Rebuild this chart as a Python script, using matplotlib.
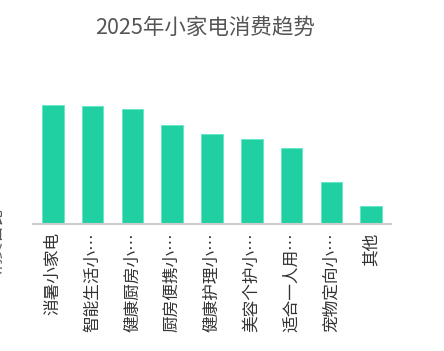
import numpy as np
import matplotlib
matplotlib.use("Agg")
import matplotlib.pyplot as plt

plt.rcParams['font.family'] = ['Noto Sans CJK SC', 'DejaVu Sans']

# data (bar heights, arbitrary units)
categories = ["消暑小家电", "智能生活小家电", "健康厨房小家电", "厨房便携小家电",
              "健康护理小家电", "美容个护小家电", "适合一人用小家电", "宠物定向小家电", "其他"]
values = [119, 118, 115.5, 99, 90, 85, 76, 42, 18]
title = "2025年小家电消费趋势"
ylabel = "消费占比"


def shorten(s, n=5):
    return s if len(s) <= n else s[:n] + "…"


W, H = 444, 351
fig = plt.figure(figsize=(W / 100, H / 100), dpi=100)
fig.patch.set_facecolor("white")

# axes in pixel coords: left 33, right 391, baseline y=224, top y=84
ax = fig.add_axes([33 / W, (H - 224) / H, (391 - 33) / W, 140 / H])
x = np.arange(len(categories))
ax.bar(x, values, width=0.54, color="#20D0A2", edgecolor="#5FE8C4", linewidth=0.6)
ax.set_xlim(-0.5, len(categories) - 0.5)
ax.set_ylim(0, 140)

for side in ["top", "right", "left"]:
    ax.spines[side].set_visible(False)
ax.spines["bottom"].set_color("#CCCCCC")
ax.spines["bottom"].set_linewidth(1.5)
ax.set_yticks([])
ax.set_xticks(x)
ax.set_xticklabels([shorten(c) for c in categories], rotation=90,
                   fontsize=12, color="#333333", va="top", ha="center")
ax.tick_params(axis="x", length=0, pad=6)

fig.text(205 / W, 1 - 28 / H, title, ha="center", va="center",
         fontsize=15.5, color="#555555")
fig.text(-3 / W, 1 - 241 / H, ylabel, rotation=90, ha="center", va="center",
         fontsize=12, color="#555555")

fig.savefig("out.png", dpi=100)
